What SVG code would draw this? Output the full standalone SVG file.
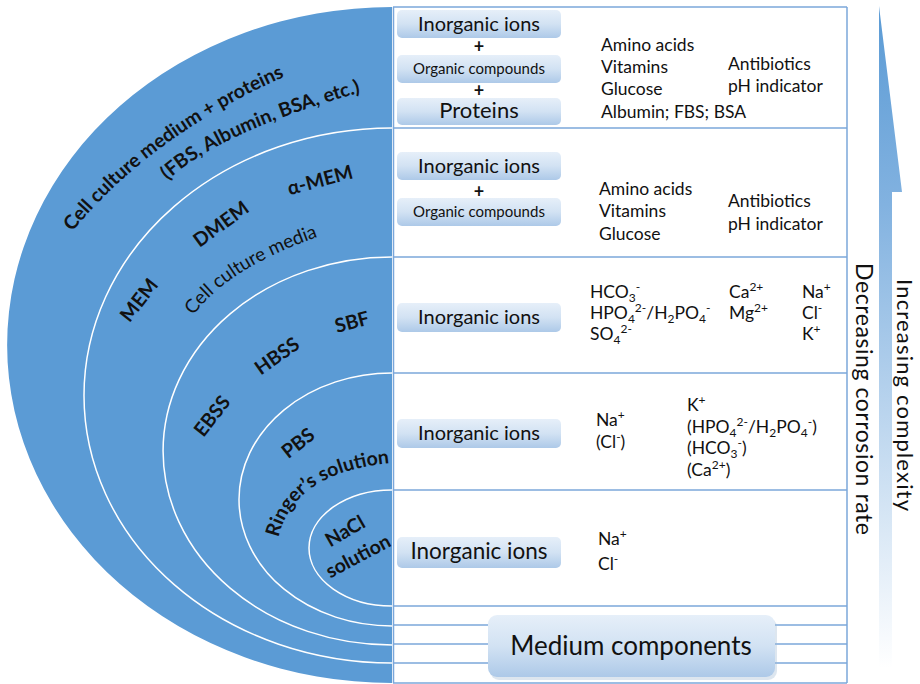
<svg xmlns="http://www.w3.org/2000/svg" width="920" height="684" viewBox="0 0 920 684">
<style>
text{font-family:Lato,"Open Sans","Liberation Sans",sans-serif;fill:#111;}
.b{font-weight:bold;font-size:19.5px;}
.r{font-size:17.5px;}
.s{font-size:12px;}
.box{fill:url(#boxGrad);}
.bx{font-size:20px;text-anchor:middle;}
.oc{font-size:15px;text-anchor:middle;}
.pl{font-size:18px;text-anchor:middle;font-weight:bold;}
.ring{fill:none;stroke:#fff;stroke-width:1.5;}
.tl{stroke:#7ba7da;stroke-width:1.5;fill:none;}
.rot{font-size:23px;text-anchor:middle;}
</style>
<defs>
<linearGradient id="boxGrad" x1="0" y1="0" x2="0" y2="1">
<stop offset="0" stop-color="#e6eff9"/>
<stop offset="0.5" stop-color="#d2e2f3"/>
<stop offset="1" stop-color="#adc9e8"/>
</linearGradient>
<linearGradient id="arrowGrad" gradientUnits="userSpaceOnUse" x1="0" y1="6" x2="0" y2="668">
<stop offset="0" stop-color="#5b9bd5"/>
<stop offset="0.3" stop-color="#82b2e0"/>
<stop offset="1" stop-color="#ffffff"/>
</linearGradient>
<path id="p1" d="M62,245 Q145,135 300,70"/>
<path id="p2" d="M164,184 Q216,132 366,91"/>
<path id="p3" d="M187,325 Q220,269 329,233"/>
<path id="p4" d="M278,540 Q292,472 392,463"/>
</defs>

<g id="layers">
<path d="M392,7 A385,338 0 0 0 392,683 Z" fill="#5b9bd5"/>
<path class="ring" d="M392,128 A308,267.5 0 0 0 392,663"/>
<path class="ring" d="M392,257 A229,194 0 0 0 392,645"/>
<path class="ring" d="M392,373 A153,126.5 0 0 0 392,626"/>
<path class="ring" d="M392,490 A83,58 0 0 0 392,606"/>
</g>

<g id="layer-labels">
<text class="b"><textPath href="#p1" startOffset="50%" text-anchor="middle">Cell culture medium + proteins</textPath></text>
<text class="b"><textPath href="#p2" startOffset="50%" text-anchor="middle">(FBS, Albumin, BSA, etc.)</textPath></text>
<text style="font-size:19px"><textPath href="#p3" startOffset="50%" text-anchor="middle">Cell culture media</textPath></text>
<text class="b" text-anchor="middle" transform="translate(320,180) rotate(-15)" dy=".35em">α-MEM</text>
<text class="b" text-anchor="middle" transform="translate(221,224) rotate(-36)" dy=".35em">DMEM</text>
<text class="b" text-anchor="middle" transform="translate(139,300) rotate(-52)" dy=".35em">MEM</text>
<text class="b" text-anchor="middle" transform="translate(352,322) rotate(-15)" dy=".35em">SBF</text>
<text class="b" text-anchor="middle" transform="translate(277,356) rotate(-35)" dy=".35em">HBSS</text>
<text class="b" text-anchor="middle" transform="translate(212,416) rotate(-52)" dy=".35em">EBSS</text>
<text class="b" text-anchor="middle" transform="translate(298,443) rotate(-38)" dy=".35em">PBS</text>
<text class="b"><textPath href="#p4" startOffset="50%" text-anchor="middle">Ringer’s solution</textPath></text>
<text class="b" text-anchor="middle" transform="translate(345,531) rotate(-30)" dy=".35em">NaCl</text>
<text class="b" text-anchor="middle" transform="translate(358,556) rotate(-28)" dy=".35em">solution</text>
</g>

<g id="table">
<line class="tl" x1="393.5" y1="7" x2="393.5" y2="683"/>
<line class="tl" x1="847" y1="7" x2="847" y2="683"/>
<line class="tl" x1="393" y1="7" x2="847" y2="7"/>
<line class="tl" x1="393" y1="128" x2="847" y2="128"/>
<line class="tl" x1="393" y1="257" x2="847" y2="257"/>
<line class="tl" x1="393" y1="373" x2="847" y2="373"/>
<line class="tl" x1="393" y1="490" x2="847" y2="490"/>
<line class="tl" x1="393" y1="606" x2="847" y2="606"/>
<line class="tl" x1="393" y1="625" x2="847" y2="625"/>
<line class="tl" x1="393" y1="644" x2="847" y2="644"/>
<line class="tl" x1="393" y1="663" x2="847" y2="663"/>
<line class="tl" x1="393" y1="683" x2="847" y2="683"/>
</g>

<g id="row1">
<rect class="box" x="397" y="10" width="164" height="28" rx="5"/>
<text class="bx" x="479" y="31">Inorganic ions</text>
<text class="pl" x="479" y="53">+</text>
<rect class="box" x="397" y="55" width="164" height="28" rx="5"/>
<text class="oc" x="479" y="74">Organic compounds</text>
<text class="pl" x="479" y="97">+</text>
<rect class="box" x="397" y="98" width="164" height="27" rx="5"/>
<text class="bx" x="479" y="118" style="font-size:22px">Proteins</text>
<text class="r" x="601" y="51">Amino acids</text>
<text class="r" x="601" y="73">Vitamins</text>
<text class="r" x="601" y="95">Glucose</text>
<text class="r" x="601" y="118">Albumin; FBS; BSA</text>
<text class="r" x="728" y="70">Antibiotics</text>
<text class="r" x="728" y="92">pH indicator</text>
</g>

<g id="row2">
<rect class="box" x="397" y="152" width="164" height="28" rx="5"/>
<text class="bx" x="479" y="173">Inorganic ions</text>
<text class="pl" x="479" y="198">+</text>
<rect class="box" x="397" y="198" width="164" height="28" rx="5"/>
<text class="oc" x="479" y="217">Organic compounds</text>
<text class="r" x="599" y="195">Amino acids</text>
<text class="r" x="599" y="217">Vitamins</text>
<text class="r" x="599" y="240">Glucose</text>
<text class="r" x="728" y="207">Antibiotics</text>
<text class="r" x="728" y="230">pH indicator</text>
</g>

<g id="row3">
<rect class="box" x="397" y="303" width="164" height="29" rx="5"/>
<text class="bx" x="479" y="324">Inorganic ions</text>
<text class="r" x="590" y="298">HCO<tspan class="s" dy="4">3</tspan><tspan class="s" dy="-11">-</tspan></text>
<text class="r" x="590" y="319">HPO<tspan class="s" dy="4">4</tspan><tspan class="s" dy="-11">2-</tspan><tspan dy="7">/H</tspan><tspan class="s" dy="4">2</tspan><tspan dy="-4">PO</tspan><tspan class="s" dy="4">4</tspan><tspan class="s" dy="-11">-</tspan></text>
<text class="r" x="590" y="340">SO<tspan class="s" dy="4">4</tspan><tspan class="s" dy="-11">2-</tspan></text>
<text class="r" x="729" y="298">Ca<tspan class="s" dy="-7">2+</tspan></text>
<text class="r" x="729" y="319">Mg<tspan class="s" dy="-7">2+</tspan></text>
<text class="r" x="802" y="298">Na<tspan class="s" dy="-7">+</tspan></text>
<text class="r" x="802" y="319">Cl<tspan class="s" dy="-7">-</tspan></text>
<text class="r" x="802" y="340">K<tspan class="s" dy="-7">+</tspan></text>
</g>

<g id="row4">
<rect class="box" x="397" y="419" width="164" height="29" rx="5"/>
<text class="bx" x="479" y="440">Inorganic ions</text>
<text class="r" x="596" y="426">Na<tspan class="s" dy="-7">+</tspan></text>
<text class="r" x="596" y="448">(Cl<tspan class="s" dy="-7">-</tspan><tspan dy="7">)</tspan></text>
<text class="r" x="687" y="411">K<tspan class="s" dy="-7">+</tspan></text>
<text class="r" x="687" y="433">(HPO<tspan class="s" dy="4">4</tspan><tspan class="s" dy="-11">2-</tspan><tspan dy="7">/H</tspan><tspan class="s" dy="4">2</tspan><tspan dy="-4">PO</tspan><tspan class="s" dy="4">4</tspan><tspan class="s" dy="-11">-</tspan><tspan dy="7">)</tspan></text>
<text class="r" x="687" y="454">(HCO<tspan class="s" dy="4">3</tspan><tspan class="s" dy="-11">-</tspan><tspan dy="7">)</tspan></text>
<text class="r" x="687" y="476">(Ca<tspan class="s" dy="-7">2+</tspan><tspan dy="7">)</tspan></text>
</g>

<g id="row5">
<rect class="box" x="397" y="537" width="164" height="31" rx="5"/>
<text class="bx" x="479" y="559" style="font-size:22.5px">Inorganic ions</text>
<text class="r" x="598" y="545">Na<tspan class="s" dy="-7">+</tspan></text>
<text class="r" x="598" y="570">Cl<tspan class="s" dy="-7">-</tspan></text>
</g>

<g id="medium-components">
<rect x="490" y="618" width="287" height="62" rx="9" fill="#9fb7d2" opacity="0.35"/>
<rect class="box" x="488" y="615" width="287" height="62" rx="9"/>
<text x="631" y="655" style="font-size:26px;text-anchor:middle">Medium components</text>
</g>

<g id="connectors">
<path d="M879,6 L902,192 L892,192 L892,668 L879,668 Z" fill="url(#arrowGrad)"/>
</g>

<g id="axis-labels">
<text class="rot" transform="translate(856,399) rotate(90)" textLength="272" lengthAdjust="spacing">Decreasing corrosion rate</text>
<text class="rot" transform="translate(897,395) rotate(90)" textLength="232" lengthAdjust="spacing" style="font-size:22px">Increasing complexity</text>
</g>
</svg>
